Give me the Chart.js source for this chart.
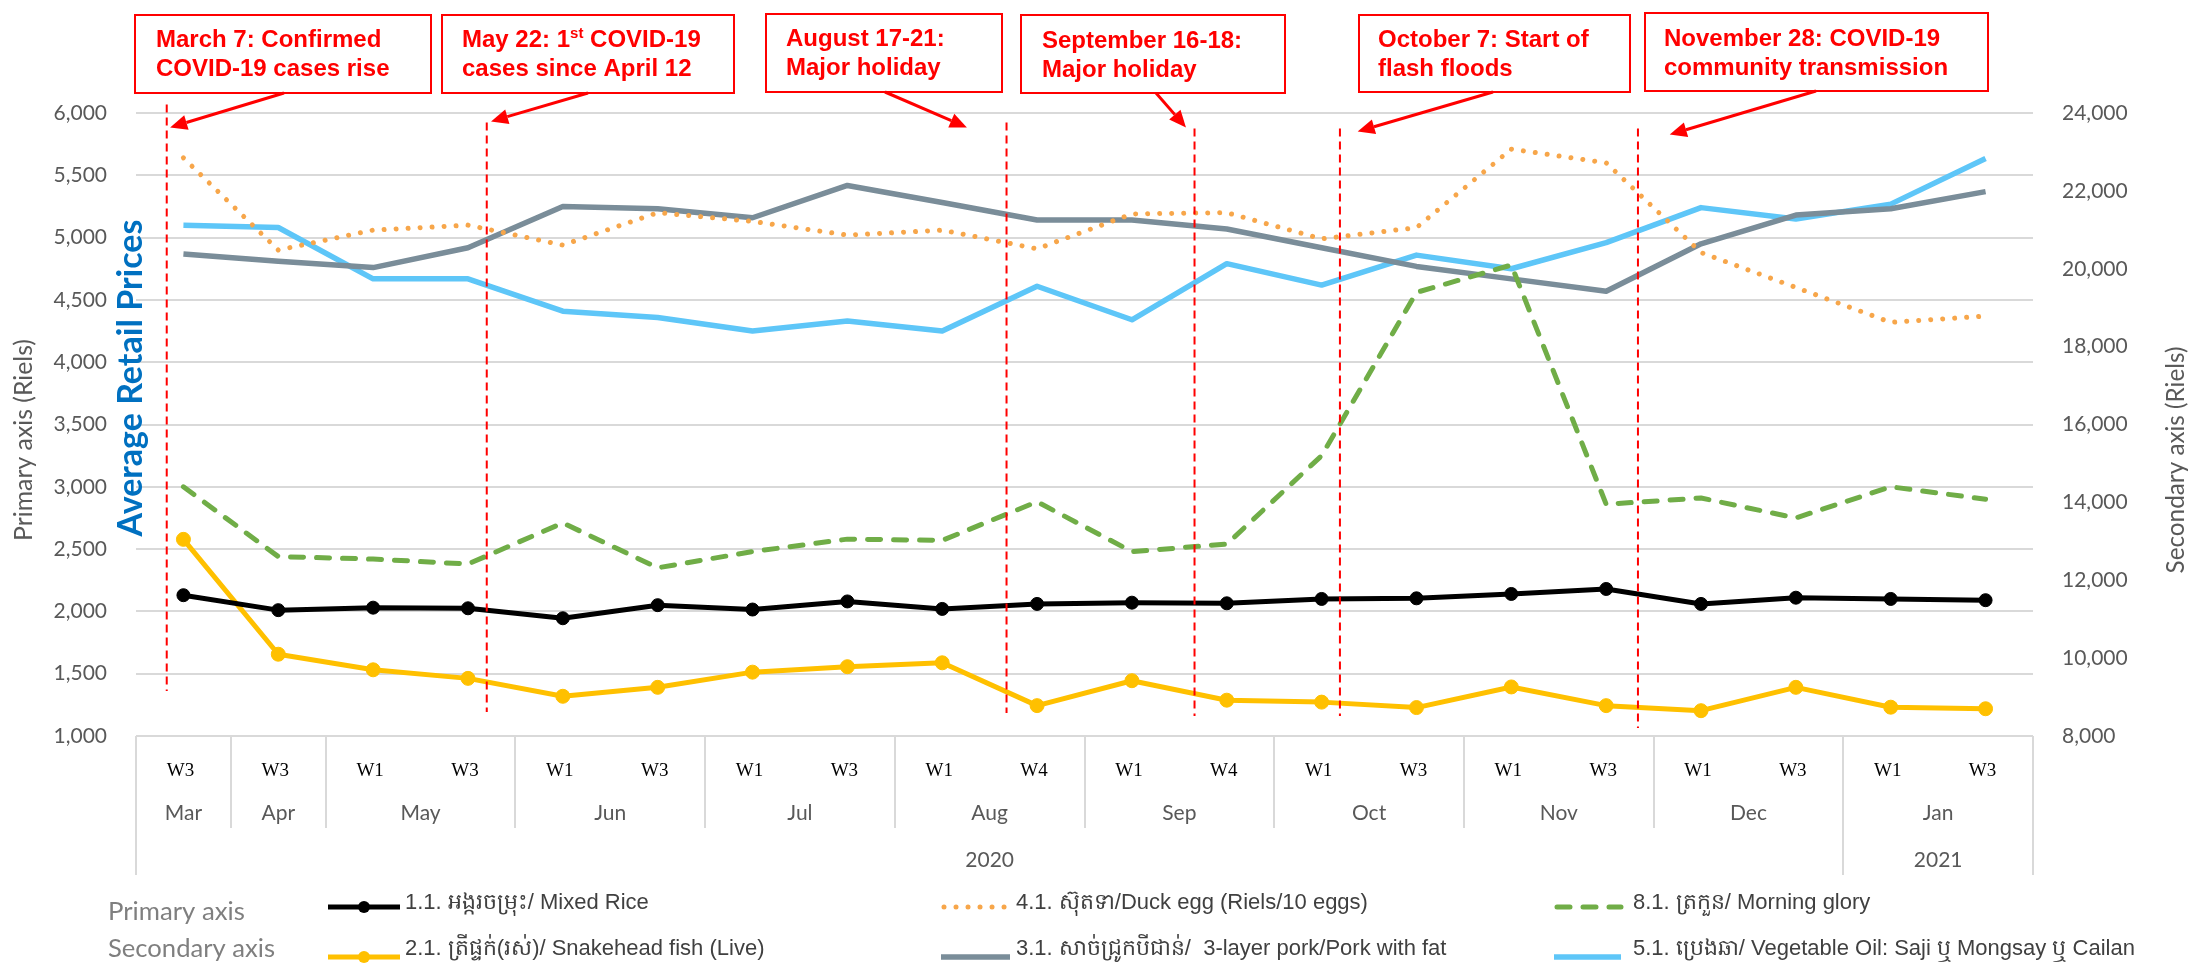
<!DOCTYPE html>
<html><head><meta charset="utf-8">
<script src="https://cdn.jsdelivr.net/npm/chart.js@4.4.1/dist/chart.umd.min.js"></script>
<style>html,body{margin:0;padding:0;background:#fff}#wrap{width:2193px;height:966px;position:relative}</style>
</head><body><div id="wrap"><canvas id="c"></canvas></div>
<script>
// ---- data ----
const weekLabels  = ['W3','W3','W1','W3','W1','W3','W1','W3','W1','W4','W1','W4','W1','W3','W1','W3','W1','W3','W1','W3'];
const monthLabels = ['Mar','Apr','May','May','Jun','Jun','Jul','Jul','Aug','Aug','Sep','Sep','Oct','Oct','Nov','Nov','Dec','Dec','Jan','Jan'];
const yearLabels  = ['2020','2020','2020','2020','2020','2020','2020','2020','2020','2020','2020','2020','2020','2020','2020','2020','2020','2020','2021','2021'];

const mixedRice    = [2130,2010,2030,2025,1945,2050,2015,2080,2020,2060,2070,2065,2100,2105,2140,2180,2060,2110,2100,2090];
const duckEgg      = [5640,4900,5060,5100,4940,5200,5130,5020,5060,4910,5190,5200,4990,5080,5710,5600,4880,4600,4320,4370];
const morningGlory = [3000,2440,2420,2380,2710,2350,2480,2580,2570,2880,2480,2540,3250,4560,4780,2860,2910,2750,3000,2900];
const snakeheadFish= [13050,10100,9700,9480,9020,9250,9640,9780,9880,8780,9420,8920,8870,8730,9260,8780,8650,9250,8740,8700];
const porkWithFat  = [20380,20190,20030,20540,21600,21540,21310,22140,21700,21250,21250,21020,20540,20060,19740,19420,20640,21380,21540,21980];
const vegetableOil = [21120,21060,19740,19740,18910,18750,18400,18660,18400,19550,18690,20130,19580,20350,20000,20670,21570,21280,21660,22830];

const seriesNames = [
  '1.1. អង្ករចម្រុះ/ Mixed Rice',
  '4.1. ស៊ុតទា/Duck egg (Riels/10 eggs)',
  '8.1. ត្រកួន/ Morning glory',
  '2.1. ត្រីផ្ទក់(រស់)/ Snakehead fish (Live)',
  '3.1. សាច់ជ្រូកបីជាន់/  3-layer pork/Pork with fat',
  '5.1. ប្រេងឆា/ Vegetable Oil: Saji ឬ Mongsay ឬ Cailan'
];
const primaryRange   = [1000, 6000, 500];
const secondaryRange = [8000, 24000, 2000];

const eventNotes = [
  [['March 7: Confirmed'], ['COVID-19 cases rise']],
  [['May 22: 1', '^st', ' COVID-19'], ['cases since April 12']],
  [['August 17-21:'], ['Major holiday']],
  [['September 16-18:'], ['Major holiday']],
  [['October 7: Start of'], ['flash floods']],
  [['November 28: COVID-19'], ['community transmission']]
];

// ---- layout of annotations (box in px; line/arrow targets in axis units) ----
const noteLayout = [
  {box:[135,15,431,93],  tx:156,  base:[47,76], line:[-0.176,6068,1361], arrow:[284,93,-0.14,5884]},
  {box:[442,15,734,93],  tx:462,  base:[47,76], line:[3.198,5924,1193],  arrow:[588,93,3.243,5932]},
  {box:[766,14,1002,92], tx:786,  base:[46,75], line:[8.678,5924,1185],  arrow:[885,92,8.26,5884]},
  {box:[1021,15,1285,93],tx:1042, base:[48,77], line:[10.66,5876,1161],  arrow:[1156,93,10.57,5884]},
  {box:[1359,15,1630,92],tx:1378, base:[47,76], line:[12.193,5876,1161], arrow:[1493,92,12.38,5851]},
  {box:[1645,13,1988,91],tx:1664, base:[46,75], line:[15.335,5876,1064], arrow:[1816,91,15.67,5827]}
];

const TICK_FONT = {family:'Lato', size:21};
const GRAY = '#595959';

const datasets = [
  {label:seriesNames[0], data:mixedRice, yAxisID:'y', borderColor:'#000000', backgroundColor:'#000000', borderWidth:5, pointRadius:6.5, pointBackgroundColor:'#000', pointBorderColor:'#000', pointBorderWidth:1},
  {label:seriesNames[1], data:duckEgg, yAxisID:'y', borderColor:'#F7A64A', borderWidth:5, pointRadius:0, borderDash:[0.01,12], borderCapStyle:'round'},
  {label:seriesNames[2], data:morningGlory, yAxisID:'y', borderColor:'#70AD47', borderWidth:5, pointRadius:0, borderDash:[13,13], borderCapStyle:'round'},
  {label:seriesNames[3], data:snakeheadFish, yAxisID:'y2', borderColor:'#FFC000', backgroundColor:'#FFC000', borderWidth:5, pointRadius:7, pointBackgroundColor:'#FFC000', pointBorderColor:'#FFC000', pointBorderWidth:1},
  {label:seriesNames[4], data:porkWithFat, yAxisID:'y2', borderColor:'#7A8D99', borderWidth:5.5, pointRadius:0},
  {label:seriesNames[5], data:vegetableOil, yAxisID:'y2', borderColor:'#5EC6F8', borderWidth:5.5, pointRadius:0}
].map(d => Object.assign({fill:false, tension:0, borderJoinStyle:'round', pointHoverRadius:d.pointRadius}, d));

function fitSize(ctx, text, weight, family, target){
  ctx.font = weight + ' 100px ' + family;
  return 100 * target / ctx.measureText(text).width;
}

const categoryAxisPlugin = {
  id:'categoryAxis',
  afterDraw(chart){
    const ctx = chart.ctx, x = chart.scales.x, a = chart.chartArea;
    const top = a.bottom, n = weekLabels.length;
    ctx.save();
    ctx.strokeStyle = '#D9D9D9'; ctx.lineWidth = 2;
    ctx.beginPath(); ctx.moveTo(a.left, top); ctx.lineTo(a.right, top); ctx.stroke();
    for (let i = 0; i <= n; i++){
      const bx = Math.round(x.getPixelForValue(i - 0.5));
      let bottom = null;
      if (i === 0 || i === n || yearLabels[i] !== yearLabels[i-1]) bottom = top + 139;
      else if (monthLabels[i] !== monthLabels[i-1]) bottom = top + 92;
      if (bottom !== null){ ctx.beginPath(); ctx.moveTo(bx, top); ctx.lineTo(bx, bottom); ctx.stroke(); }
    }
    ctx.textAlign = 'center'; ctx.textBaseline = 'middle';
    ctx.fillStyle = '#000'; ctx.font = '19px "Liberation Serif"';
    for (let i = 0; i < n; i++) ctx.fillText(weekLabels[i], x.getPixelForValue(i) - 3, top + 35);
    ctx.fillStyle = GRAY; ctx.font = '21px Lato';
    const groups = (arr) => { const g = []; let s = 0; for (let i = 1; i <= arr.length; i++){ if (i === arr.length || arr[i] !== arr[s]){ g.push([arr[s], s, i-1]); s = i; } } return g; };
    for (const [lab, s, e] of groups(monthLabels)) ctx.fillText(lab, (x.getPixelForValue(s) + x.getPixelForValue(e)) / 2, top + 77);
    for (const [lab, s, e] of groups(yearLabels)) ctx.fillText(lab, (x.getPixelForValue(s) + x.getPixelForValue(e)) / 2, top + 124);
    ctx.restore();
  }
};

const titlesPlugin = {
  id:'titles',
  afterDraw(chart){
    const ctx = chart.ctx;
    ctx.save();
    const vtext = (t, cx, cy, len, weight, family, color) => {
      const sz = fitSize(ctx, t, weight, family, len);
      ctx.font = weight + ' ' + sz.toFixed(2) + 'px ' + family;
      ctx.fillStyle = color; ctx.textAlign = 'center'; ctx.textBaseline = 'middle';
      ctx.save(); ctx.translate(cx, cy); ctx.rotate(-Math.PI/2); ctx.fillText(t, 0, 0); ctx.restore();
    };
    vtext('Primary axis (Riels)', 24, 440, 202, 'normal', 'Lato', GRAY);
    vtext('Average Retail Prices', 131, 378, 317, 'bold', 'Lato', '#0070C0');
    vtext('Secondary axis (Riels)', 2176, 460, 227, 'normal', 'Lato', GRAY);
    ctx.restore();
  }
};

const legendPlugin = {
  id:'customLegend',
  afterDraw(chart){
    const ctx = chart.ctx;
    ctx.save();
    ctx.fillStyle = '#7F7F7F'; ctx.textAlign = 'left'; ctx.textBaseline = 'middle';
    let sz = fitSize(ctx, 'Primary axis', 'normal', 'Lato', 137);
    ctx.font = sz.toFixed(2) + 'px Lato'; ctx.fillText('Primary axis', 108, 912);
    sz = fitSize(ctx, 'Secondary axis', 'normal', 'Lato', 167);
    ctx.font = sz.toFixed(2) + 'px Lato'; ctx.fillText('Secondary axis', 108, 949);
    const cols = [[328,400,405],[941,1010,1016],[1554,1621,1633]];
    const rows = [[907,903],[957,949]];
    chart.data.datasets.forEach((d, i) => {
      const c = cols[i % 3], r = rows[Math.floor(i / 3)];
      ctx.save();
      ctx.strokeStyle = d.borderColor; ctx.lineWidth = d.borderWidth;
      ctx.lineCap = d.borderDash ? 'round' : 'butt';
      ctx.setLineDash(d.borderDash || []);
      ctx.beginPath(); ctx.moveTo(c[0] + (d.borderDash ? 3 : 0), r[0]); ctx.lineTo(c[1], r[0]); ctx.stroke();
      ctx.setLineDash([]);
      if (d.pointRadius > 0){ ctx.fillStyle = d.pointBackgroundColor; ctx.beginPath(); ctx.arc((c[0]+c[1])/2, r[0], 6, 0, Math.PI*2); ctx.fill(); }
      ctx.restore();
      ctx.fillStyle = '#404040'; ctx.font = '22px "Liberation Sans"';
      ctx.fillText(d.label, c[2], r[1]);
    });
    ctx.restore();
  }
};

const notesPlugin = {
  id:'notes',
  afterDatasetsDraw(chart){
    const ctx = chart.ctx, x = chart.scales.x, y = chart.scales.y;
    ctx.save();
    ctx.strokeStyle = '#FF0000'; ctx.lineWidth = 2; ctx.setLineDash([8,5]);
    for (const L of noteLayout){
      const px = x.getPixelForValue(L.line[0]);
      ctx.beginPath(); ctx.moveTo(px, y.getPixelForValue(L.line[1])); ctx.lineTo(px, y.getPixelForValue(L.line[2])); ctx.stroke();
    }
    ctx.restore();
  },
  afterDraw(chart){
    const ctx = chart.ctx, x = chart.scales.x, y = chart.scales.y;
    ctx.save();
    noteLayout.forEach((L, k) => {
      const [x1, y1, x2, y2] = L.box;
      ctx.fillStyle = '#fff'; ctx.fillRect(x1, y1, x2 - x1, y2 - y1);
      ctx.strokeStyle = '#FF0000'; ctx.lineWidth = 2; ctx.strokeRect(x1, y1, x2 - x1, y2 - y1);
      const ax1 = L.arrow[0], ay1 = L.arrow[1];
      const ax2 = x.getPixelForValue(L.arrow[2]), ay2 = y.getPixelForValue(L.arrow[3]);
      const ang = Math.atan2(ay2 - ay1, ax2 - ax1), HL = 17, HW = 7.5;
      const bx = ax2 - HL * Math.cos(ang), by = ay2 - HL * Math.sin(ang);
      ctx.lineWidth = 3; ctx.fillStyle = '#FF0000';
      ctx.beginPath(); ctx.moveTo(ax1, ay1); ctx.lineTo(bx, by); ctx.stroke();
      ctx.beginPath(); ctx.moveTo(ax2, ay2);
      ctx.lineTo(bx + HW * Math.sin(ang), by - HW * Math.cos(ang));
      ctx.lineTo(bx - HW * Math.sin(ang), by + HW * Math.cos(ang));
      ctx.closePath(); ctx.fill();
      ctx.textAlign = 'left'; ctx.textBaseline = 'alphabetic';
      eventNotes[k].forEach((parts, li) => {
        let tx = L.tx;
        for (const p of parts){
          if (p.startsWith('^')){
            ctx.font = 'bold 15px "Liberation Sans"';
            const t = p.slice(1); ctx.fillText(t, tx, L.base[li] - 9); tx += ctx.measureText(t).width;
          } else {
            ctx.font = 'bold 24px "Liberation Sans"';
            ctx.fillText(p, tx, L.base[li]); tx += ctx.measureText(p).width;
          }
        }
      });
    });
    ctx.restore();
  }
};

new Chart(document.getElementById('c'), {
  type:'line',
  data:{ labels: weekLabels.map((w, i) => monthLabels[i] + ' ' + w + ' ' + yearLabels[i]), datasets },
  options:{
    responsive:true, maintainAspectRatio:false, animation:false, devicePixelRatio:1,
    layout:{ padding:{ top:113, bottom:230, left:0, right:0 } },
    plugins:{ legend:{ display:false }, tooltip:{ enabled:false } },
    events:[],
    scales:{
      x:{ display:false, offset:true },
      y:{ position:'left', min:primaryRange[0], max:primaryRange[1],
          ticks:{ stepSize:primaryRange[2], padding:29, color:GRAY, font:TICK_FONT },
          grid:{ color:'#D9D9D9', lineWidth:2, drawTicks:false }, border:{ display:false },
          afterFit(s){ s.width = 136; } },
      y2:{ position:'right', min:secondaryRange[0], max:secondaryRange[1],
          ticks:{ stepSize:secondaryRange[2], padding:29, color:GRAY, font:TICK_FONT },
          grid:{ display:false, drawTicks:false }, border:{ display:false },
          afterFit(s){ s.width = 160; } }
    }
  },
  plugins:[categoryAxisPlugin, notesPlugin, titlesPlugin, legendPlugin]
});
</script></body></html>
